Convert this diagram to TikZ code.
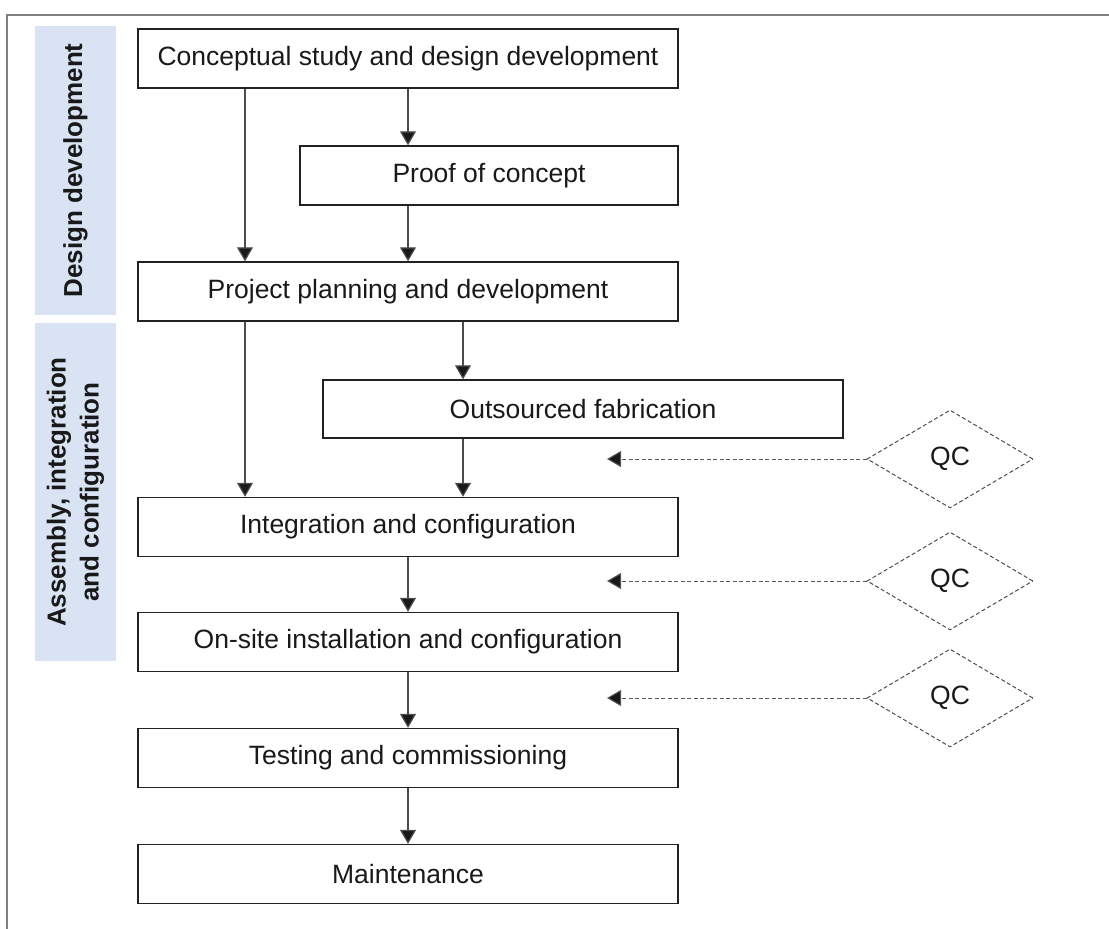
\documentclass[tikz,border=0pt]{standalone}
\usepackage{fontspec}
\setmainfont{Liberation Sans}
\usetikzlibrary{arrows.meta,shapes.geometric}
\definecolor{bandblue}{HTML}{D9E3F3}
\definecolor{edge}{HTML}{222222}
\begin{document}
\begin{tikzpicture}[x=1pt,y=-1pt,
  stepbox/.style={draw=edge, line width=1.4pt, fill=white, inner sep=0pt,
    minimum height=59pt, font=\fontsize{26.5}{32}\selectfont, text=black!90},
  flow/.style={draw=black!70, line width=1.2pt, -{Triangle[length=14pt,width=16pt,fill=black!90]}},
  qcarrow/.style={draw=black!65, line width=1pt, dash pattern=on 4pt off 2.5pt,
    -{Triangle[length=14pt,width=16pt,fill=black!90]}},
  qcbox/.style={diamond, draw=black!70, line width=1pt, dash pattern=on 4pt off 2.5pt,
    minimum width=166pt, minimum height=98pt, inner sep=0pt,
    font=\fontsize{26.5}{32}\selectfont, text=black!90},
  bandbox/.style={fill=bandblue, rotate=90, inner sep=0pt, minimum height=81pt,
    align=center, font=\bfseries\fontsize{26}{33}\selectfont, text=black!90}]
\useasboundingbox (0,0) rectangle (1109,929);
\draw[draw=black!50, line width=2pt] (7,929) -- (7,15) -- (1109,15);

% bands
\node[bandbox, minimum width=289pt] (b1) at (75.5,170.5) {Design development};
\node[bandbox, minimum width=338pt] (b2) at (75.5,492) {Assembly, integration\\and configuration};

% boxes
\node[stepbox, minimum width=540pt] (concept) at (408,58.5) {Conceptual study and design development};
\node[stepbox, minimum width=378pt] (proof) at (489,175.5) {Proof of concept};
\node[stepbox, minimum width=540pt] (project) at (408,291.5) {Project planning and development};
\node[stepbox, minimum width=520pt, minimum height=58pt] (outs) at (583,409) {Outsourced fabrication};
\node[stepbox, minimum width=540pt] (integ) at (408,527) {Integration and configuration};
\node[stepbox, minimum width=540pt] (onsite) at (408,642) {On-site installation and configuration};
\node[stepbox, minimum width=540pt] (testing) at (408,758) {Testing and commissioning};
\node[stepbox, minimum width=540pt] (maint) at (408,874) {Maintenance};

% columns
\coordinate (lcol) at (245,0);
\coordinate (mcol) at (408,0);
\coordinate (ocol) at (463,0);

\draw[flow] (lcol |- concept.south) -- (lcol |- project.north);
\draw[flow] (mcol |- concept.south) -- (mcol |- proof.north);
\draw[flow] (mcol |- proof.south) -- (mcol |- project.north);
\draw[flow] (lcol |- project.south) -- (lcol |- integ.north);
\draw[flow] (ocol |- project.south) -- (ocol |- outs.north);
\draw[flow] (ocol |- outs.south) -- (ocol |- integ.north);
\draw[flow] (integ) -- (onsite);
\draw[flow] (onsite) -- (testing);
\draw[flow] (testing) -- (maint);

% QC
\node[qcbox] (qc1) at (950,459) {QC};
\node[qcbox] (qc2) at (950,581) {QC};
\node[qcbox] (qc3) at (950,698) {QC};
\coordinate (t1) at (607,459);
\coordinate (t2) at (607,581);
\coordinate (t3) at (607,698);
\draw[qcarrow] (qc1.west) -- (t1);
\draw[qcarrow] (qc2.west) -- (t2);
\draw[qcarrow] (qc3.west) -- (t3);
\end{tikzpicture}
\end{document}
